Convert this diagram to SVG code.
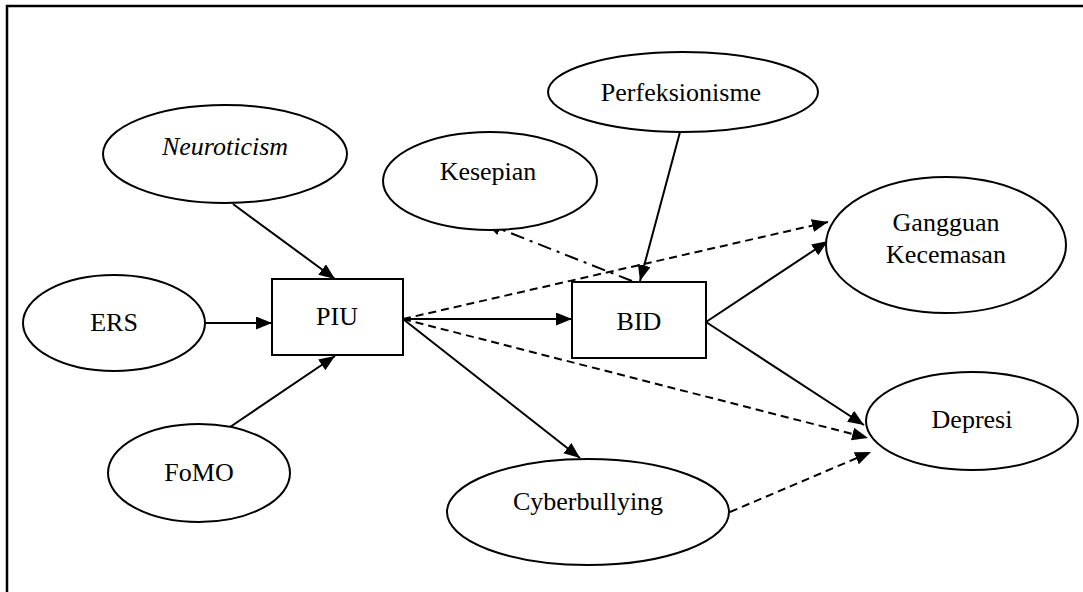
<svg xmlns="http://www.w3.org/2000/svg" width="1083" height="592" viewBox="0 0 1083 592">
<style>
.n{fill:#fff;stroke:#000;stroke-width:2}
.t{font-family:"Liberation Serif","Times New Roman",serif;font-size:26px;fill:#000;text-anchor:middle}
.c{stroke:#000;stroke-width:2;fill:none}
.s{marker-end:url(#ah)}
.d{stroke-dasharray:8 5}
.dd{stroke-dasharray:14 6 3 6}
</style>
<defs>
<marker id="ah" markerUnits="userSpaceOnUse" markerWidth="18" markerHeight="14" refX="16" refY="6.5" orient="auto">
<path d="M0,0 L16,6.5 L0,13 z" fill="#000"/>
</marker>
</defs>
<rect width="1083" height="592" fill="#fff"/>
<path d="M7,592 V6 H1083" fill="none" stroke="#000" stroke-width="2.5"/>
<g id="connectors">
<line class="c s" x1="233" y1="204" x2="335" y2="279"/>
<line class="c s" x1="205" y1="323" x2="272" y2="323"/>
<line class="c s" x1="230" y1="427" x2="335" y2="356"/>
<line class="c s" x1="403" y1="319" x2="572" y2="319"/>
<line class="c s d" x1="403" y1="319" x2="828" y2="222"/>
<line class="c s d" x1="403" y1="319" x2="868" y2="438"/>
<line class="c s" x1="403" y1="319" x2="580" y2="458"/>
<line class="c s" x1="706" y1="322" x2="828" y2="241"/>
<line class="c s" x1="706" y1="322" x2="864" y2="425"/>
<line class="c s d" x1="730" y1="512" x2="871" y2="452"/>
<line class="c s" x1="680" y1="132" x2="640" y2="281"/>
<line class="c s dd" x1="632" y1="281" x2="485" y2="223"/>
</g>
<g id="neuroticism"><ellipse class="n" cx="225" cy="154" rx="122" ry="49"/><text class="t" x="225" y="155" font-style="italic">Neuroticism</text></g>
<g id="perfeksionisme"><ellipse class="n" cx="683" cy="92" rx="135" ry="40"/><text class="t" x="681" y="101">Perfeksionisme</text></g>
<g id="kesepian"><ellipse class="n" cx="490" cy="181" rx="107" ry="49"/><text class="t" x="488" y="180">Kesepian</text></g>
<g id="ers"><ellipse class="n" cx="114" cy="323" rx="91" ry="48"/><text class="t" x="114" y="331">ERS</text></g>
<g id="piu"><rect class="n" x="272" y="279" width="131" height="76"/><text class="t" x="337" y="325">PIU</text></g>
<g id="bid"><rect class="n" x="572" y="282" width="134" height="76"/><text class="t" x="639" y="330">BID</text></g>
<g id="fomo"><ellipse class="n" cx="199" cy="473" rx="91" ry="49"/><text class="t" x="199" y="481">FoMO</text></g>
<g id="cyberbullying"><ellipse class="n" cx="588" cy="512" rx="141" ry="53"/><text class="t" x="588" y="510">Cyberbullying</text></g>
<g id="gangguan"><ellipse class="n" cx="946" cy="245" rx="120" ry="68"/><text class="t" x="946" y="231">Gangguan</text><text class="t" x="946" y="263">Kecemasan</text></g>
<g id="depresi"><ellipse class="n" cx="972" cy="421" rx="106" ry="49"/><text class="t" x="972" y="428">Depresi</text></g>
</svg>
